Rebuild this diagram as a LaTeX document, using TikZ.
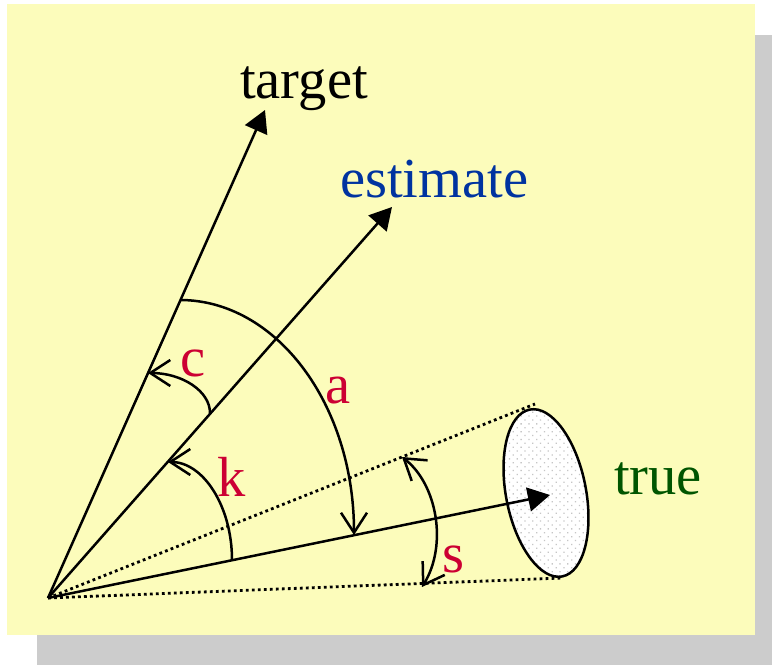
\documentclass[tikz,border=0pt]{standalone}
\usepackage{fontspec}
\setmainfont{Liberation Serif}
\usetikzlibrary{arrows.meta,shapes.geometric,patterns.meta}
\definecolor{bgyellow}{RGB}{252,252,187}
\definecolor{shadowgray}{RGB}{204,204,204}
\definecolor{lblred}{RGB}{204,0,51}
\definecolor{lblblue}{RGB}{0,51,160}
\definecolor{lblgreen}{RGB}{0,85,0}
\tikzset{
  vec/.style={line width=2.5pt,-{Triangle[length=22pt,width=24pt]}},
  anglearc/.style={line width=2.5pt,-{Straight Barb[length=20pt,width=26pt]}},
  bothbarb/.style={line width=2.5pt,{Straight Barb[length=20pt,width=26pt]}-{Straight Barb[length=20pt,width=26pt]}},
  dotline/.style={line width=2.8pt,dash pattern=on 2.8pt off 3.2pt},
  lbl/.style={inner sep=0pt,anchor=base west,font=\fontsize{56.5}{62}\selectfont}
}
\begin{document}
\begin{tikzpicture}[x=1pt,y=-1pt]
\useasboundingbox (0,0) rectangle (772,665);
\fill[shadowgray] (37,35) rectangle (772,665);
\fill[bgyellow] (7,4) rectangle (755,635);
% key points
\coordinate (O) at (48,598);
\coordinate (T) at (265,110);
\coordinate (S) at (392,207);
\coordinate (R) at (550,495);
\coordinate (U) at (535,404);
\coordinate (L) at (562,578);
% ellipse
\node[ellipse,draw,line width=2.5pt,preaction={fill=white},pattern={Dots[distance=5.5pt,radius=0.9pt,angle=45]},pattern color=gray!45,minimum width=80pt,minimum height=170pt,inner sep=0pt,rotate=11] (E) at (546,493) {};
% dotted cone
\draw[dotline] (O) -- (U);
\draw[dotline] (O) -- (L);
% vectors
\draw[vec] (O) -- (T);
\draw[vec] (O) -- (S);
\draw[vec] (O) -- (R);
% angle a
\coordinate (a0) at (180,300);
\coordinate (a1) at (354,535);
\draw[anglearc] (a0) .. controls (276,300) and (354,404) .. (a1);
% angle c
\coordinate (c0) at (210,413);
\coordinate (c1) at (148,373);
\draw[anglearc] (c0) .. controls (210,391) and (182,373) .. (c1);
% angle k
\coordinate (k0) at (232,560);
\coordinate (k1) at (168,462);
\draw[anglearc] (k0) .. controls (232,506) and (203,462) .. (k1);
% angle s
\coordinate (s0) at (402,457);
\coordinate (s1) at (422,587);
\draw[bothbarb] (s0) .. controls (437,484) and (448,545) .. (s1);
% labels
\node[lbl] (tl) at (240,98) {target};
\node[lbl,text=lblblue] (el) at (340,197) {estimate};
\node[lbl,text=lblgreen] (rl) at (614,494) {true};
\node[lbl,text=lblred] (cl) at (180,376) {c};
\node[lbl,text=lblred] (al) at (325,403) {a};
\node[lbl,text=lblred] (kl) at (217,496) {k};
\node[lbl,text=lblred] (sl) at (442,572) {s};
\end{tikzpicture}
\end{document}
